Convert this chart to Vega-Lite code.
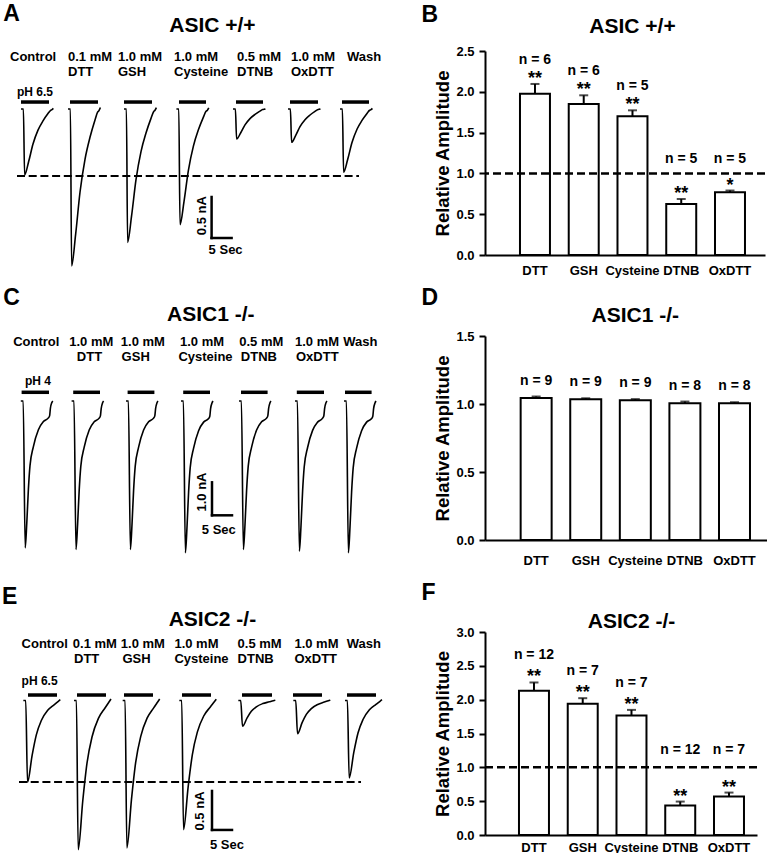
{
"$schema": "https://vega.github.io/schema/vega-lite/v6.json",
"padding": {"top": 2, "left": 0, "right": 0, "bottom": 0},
"background": "white",
"config": {"view": {"stroke": null}, "font": "Liberation Sans"},
"columns": 2,
"align": "each",
"bounds": "flush",
"spacing": {"row": 0, "column": 101},
"datasets": {
"trA": [
{"id":"A1","t":5.25,"v":0},{"id":"A1","t":5.85,"v":0},{"id":"A1","t":6.15,"v":-0.805},{"id":"A1","t":7.15,"v":-0.644},{"id":"A1","t":8.25,"v":-0.427},{"id":"A1","t":9.5,"v":-0.258},{"id":"A1","t":10.75,"v":-0.145},{"id":"A1","t":12.0,"v":-0.056},{"id":"A1","t":12.65,"v":-0.016},{"id":"A1","t":13.0,"v":-0.008},{"id":"A1","t":13.35,"v":0.008},
{"id":"A2","t":17.0,"v":0},{"id":"A2","t":17.6,"v":0},{"id":"A2","t":17.9,"v":-1.915},{"id":"A2","t":18.9,"v":-1.532},{"id":"A2","t":20.0,"v":-1.015},{"id":"A2","t":21.25,"v":-0.613},{"id":"A2","t":22.5,"v":-0.345},{"id":"A2","t":23.75,"v":-0.134},{"id":"A2","t":24.4,"v":-0.038},{"id":"A2","t":24.75,"v":-0.019},{"id":"A2","t":25.1,"v":0.019},
{"id":"A3","t":31.0,"v":0},{"id":"A3","t":31.6,"v":0},{"id":"A3","t":31.9,"v":-1.626},{"id":"A3","t":32.9,"v":-1.301},{"id":"A3","t":34.0,"v":-0.862},{"id":"A3","t":35.25,"v":-0.52},{"id":"A3","t":36.5,"v":-0.293},{"id":"A3","t":37.75,"v":-0.114},{"id":"A3","t":38.4,"v":-0.033},{"id":"A3","t":38.75,"v":-0.016},{"id":"A3","t":39.1,"v":0.016},
{"id":"A4","t":44.1,"v":0},{"id":"A4","t":44.7,"v":0},{"id":"A4","t":45.0,"v":-1.411},{"id":"A4","t":46.0,"v":-1.129},{"id":"A4","t":47.1,"v":-0.748},{"id":"A4","t":48.35,"v":-0.452},{"id":"A4","t":49.6,"v":-0.254},{"id":"A4","t":50.85,"v":-0.099},{"id":"A4","t":51.5,"v":-0.028},{"id":"A4","t":51.85,"v":-0.014},{"id":"A4","t":52.2,"v":0.014},
{"id":"A5","t":58.25,"v":0},{"id":"A5","t":58.85,"v":0},{"id":"A5","t":59.15,"v":-0.366},{"id":"A5","t":60.15,"v":-0.293},{"id":"A5","t":61.25,"v":-0.194},{"id":"A5","t":62.5,"v":-0.117},{"id":"A5","t":63.75,"v":-0.066},{"id":"A5","t":65.0,"v":-0.026},{"id":"A5","t":65.65,"v":-0.007},{"id":"A5","t":66.0,"v":-0.004},{"id":"A5","t":66.35,"v":0.004},
{"id":"A6","t":72.0,"v":0},{"id":"A6","t":72.6,"v":0},{"id":"A6","t":72.9,"v":-0.406},{"id":"A6","t":73.9,"v":-0.325},{"id":"A6","t":75.0,"v":-0.215},{"id":"A6","t":76.25,"v":-0.13},{"id":"A6","t":77.5,"v":-0.073},{"id":"A6","t":78.75,"v":-0.028},{"id":"A6","t":79.4,"v":-0.008},{"id":"A6","t":79.75,"v":-0.004},{"id":"A6","t":80.1,"v":0.004},
{"id":"A7","t":85.0,"v":0},{"id":"A7","t":85.6,"v":0},{"id":"A7","t":85.9,"v":-0.772},{"id":"A7","t":86.9,"v":-0.618},{"id":"A7","t":88.0,"v":-0.409},{"id":"A7","t":89.25,"v":-0.247},{"id":"A7","t":90.5,"v":-0.139},{"id":"A7","t":91.75,"v":-0.054},{"id":"A7","t":92.4,"v":-0.015},{"id":"A7","t":92.75,"v":-0.008},{"id":"A7","t":93.1,"v":0.008}
],
"trC": [
{"id":"C1","t":5.2,"v":0},{"id":"C1","t":5.8,"v":0},{"id":"C1","t":6.3,"v":-4.45},{"id":"C1","t":6.7,"v":-3.69},{"id":"C1","t":7.1,"v":-2.67},{"id":"C1","t":7.5,"v":-1.96},{"id":"C1","t":8.35,"v":-1.38},{"id":"C1","t":9.6,"v":-0.87},{"id":"C1","t":10.85,"v":-0.62},{"id":"C1","t":12.1,"v":-0.51},{"id":"C1","t":12.4,"v":-0.45},{"id":"C1","t":12.6,"v":-0.22},{"id":"C1","t":12.95,"v":-0.05},{"id":"C1","t":13.2,"v":0},
{"id":"C2","t":17.9,"v":0},{"id":"C2","t":18.5,"v":0},{"id":"C2","t":19.0,"v":-4.5},{"id":"C2","t":19.4,"v":-3.74},{"id":"C2","t":19.8,"v":-2.7},{"id":"C2","t":20.2,"v":-1.98},{"id":"C2","t":21.05,"v":-1.4},{"id":"C2","t":22.3,"v":-0.88},{"id":"C2","t":23.55,"v":-0.63},{"id":"C2","t":24.8,"v":-0.52},{"id":"C2","t":25.1,"v":-0.45},{"id":"C2","t":25.3,"v":-0.23},{"id":"C2","t":25.65,"v":-0.05},{"id":"C2","t":25.9,"v":0},
{"id":"C3","t":31.5,"v":0},{"id":"C3","t":32.1,"v":0},{"id":"C3","t":32.6,"v":-4.5},{"id":"C3","t":33.0,"v":-3.74},{"id":"C3","t":33.4,"v":-2.7},{"id":"C3","t":33.8,"v":-1.98},{"id":"C3","t":34.65,"v":-1.4},{"id":"C3","t":35.9,"v":-0.88},{"id":"C3","t":37.15,"v":-0.63},{"id":"C3","t":38.4,"v":-0.52},{"id":"C3","t":38.7,"v":-0.45},{"id":"C3","t":38.9,"v":-0.23},{"id":"C3","t":39.25,"v":-0.05},{"id":"C3","t":39.5,"v":0},
{"id":"C4","t":45.25,"v":0},{"id":"C4","t":45.85,"v":0},{"id":"C4","t":46.35,"v":-4.6},{"id":"C4","t":46.75,"v":-3.82},{"id":"C4","t":47.15,"v":-2.76},{"id":"C4","t":47.55,"v":-2.02},{"id":"C4","t":48.4,"v":-1.43},{"id":"C4","t":49.65,"v":-0.9},{"id":"C4","t":50.9,"v":-0.64},{"id":"C4","t":52.15,"v":-0.53},{"id":"C4","t":52.45,"v":-0.46},{"id":"C4","t":52.65,"v":-0.23},{"id":"C4","t":53.0,"v":-0.06},{"id":"C4","t":53.25,"v":0},
{"id":"C5","t":59.75,"v":0},{"id":"C5","t":60.35,"v":0},{"id":"C5","t":60.85,"v":-4.5},{"id":"C5","t":61.25,"v":-3.74},{"id":"C5","t":61.65,"v":-2.7},{"id":"C5","t":62.05,"v":-1.98},{"id":"C5","t":62.9,"v":-1.4},{"id":"C5","t":64.15,"v":-0.88},{"id":"C5","t":65.4,"v":-0.63},{"id":"C5","t":66.65,"v":-0.52},{"id":"C5","t":66.95,"v":-0.45},{"id":"C5","t":67.15,"v":-0.23},{"id":"C5","t":67.5,"v":-0.05},{"id":"C5","t":67.75,"v":0},
{"id":"C6","t":73.75,"v":0},{"id":"C6","t":74.35,"v":0},{"id":"C6","t":74.85,"v":-4.55},{"id":"C6","t":75.25,"v":-3.78},{"id":"C6","t":75.65,"v":-2.73},{"id":"C6","t":76.05,"v":-2.0},{"id":"C6","t":76.9,"v":-1.41},{"id":"C6","t":78.15,"v":-0.89},{"id":"C6","t":79.4,"v":-0.64},{"id":"C6","t":80.65,"v":-0.52},{"id":"C6","t":80.95,"v":-0.455},{"id":"C6","t":81.15,"v":-0.23},{"id":"C6","t":81.5,"v":-0.05},{"id":"C6","t":81.75,"v":0},
{"id":"C7","t":86.0,"v":0},{"id":"C7","t":86.6,"v":0},{"id":"C7","t":87.1,"v":-4.6},{"id":"C7","t":87.5,"v":-3.82},{"id":"C7","t":87.9,"v":-2.76},{"id":"C7","t":88.3,"v":-2.02},{"id":"C7","t":89.15,"v":-1.43},{"id":"C7","t":90.4,"v":-0.9},{"id":"C7","t":91.65,"v":-0.64},{"id":"C7","t":92.9,"v":-0.53},{"id":"C7","t":93.2,"v":-0.46},{"id":"C7","t":93.4,"v":-0.23},{"id":"C7","t":93.75,"v":-0.06},{"id":"C7","t":94.0,"v":0}
],
"trE": [
{"id":"E1","t":5.83,"v":0},{"id":"E1","t":6.43,"v":0},{"id":"E1","t":6.88,"v":-1.049},{"id":"E1","t":8.03,"v":-0.703},{"id":"E1","t":9.08,"v":-0.441},{"id":"E1","t":10.33,"v":-0.257},{"id":"E1","t":11.93,"v":-0.126},{"id":"E1","t":13.58,"v":-0.052},{"id":"E1","t":14.58,"v":-0.01},{"id":"E1","t":15.08,"v":0.01},
{"id":"E2","t":18.5,"v":0},{"id":"E2","t":19.1,"v":0},{"id":"E2","t":19.55,"v":-1.913},{"id":"E2","t":20.7,"v":-1.282},{"id":"E2","t":21.75,"v":-0.803},{"id":"E2","t":23.0,"v":-0.469},{"id":"E2","t":24.6,"v":-0.23},{"id":"E2","t":26.25,"v":-0.096},{"id":"E2","t":27.25,"v":-0.019},{"id":"E2","t":27.75,"v":0.019},
{"id":"E3","t":30.67,"v":0},{"id":"E3","t":31.27,"v":0},{"id":"E3","t":31.72,"v":-1.891},{"id":"E3","t":32.87,"v":-1.267},{"id":"E3","t":33.92,"v":-0.794},{"id":"E3","t":35.17,"v":-0.463},{"id":"E3","t":36.77,"v":-0.227},{"id":"E3","t":38.42,"v":-0.095},{"id":"E3","t":39.42,"v":-0.019},{"id":"E3","t":39.92,"v":0.019},
{"id":"E4","t":44.83,"v":0},{"id":"E4","t":45.43,"v":0},{"id":"E4","t":45.88,"v":-1.656},{"id":"E4","t":47.03,"v":-1.11},{"id":"E4","t":48.08,"v":-0.696},{"id":"E4","t":49.33,"v":-0.406},{"id":"E4","t":50.93,"v":-0.199},{"id":"E4","t":52.58,"v":-0.083},{"id":"E4","t":53.58,"v":-0.017},{"id":"E4","t":54.08,"v":0.017},
{"id":"E5","t":59.58,"v":0},{"id":"E5","t":60.18,"v":0},{"id":"E5","t":60.63,"v":-0.331},{"id":"E5","t":61.78,"v":-0.222},{"id":"E5","t":62.83,"v":-0.139},{"id":"E5","t":64.08,"v":-0.081},{"id":"E5","t":65.68,"v":-0.04},{"id":"E5","t":67.33,"v":-0.017},{"id":"E5","t":68.33,"v":-0.003},{"id":"E5","t":68.83,"v":0.003},
{"id":"E6","t":73.33,"v":0},{"id":"E6","t":73.93,"v":0},{"id":"E6","t":74.38,"v":-0.426},{"id":"E6","t":75.53,"v":-0.285},{"id":"E6","t":76.58,"v":-0.179},{"id":"E6","t":77.83,"v":-0.104},{"id":"E6","t":79.43,"v":-0.051},{"id":"E6","t":81.08,"v":-0.021},{"id":"E6","t":82.08,"v":-0.004},{"id":"E6","t":82.58,"v":0.004},
{"id":"E7","t":86.25,"v":0},{"id":"E7","t":86.85,"v":0},{"id":"E7","t":87.3,"v":-0.994},{"id":"E7","t":88.45,"v":-0.666},{"id":"E7","t":89.5,"v":-0.417},{"id":"E7","t":90.75,"v":-0.244},{"id":"E7","t":92.35,"v":-0.119},{"id":"E7","t":94.0,"v":-0.05},{"id":"E7","t":95.0,"v":-0.01},{"id":"E7","t":95.5,"v":0.01}
],
"cdA": [
{"l1":"Control","l2":"","lx":2.5,"lx2":2.5,"b1":5.25,"b2":12.25},
{"l1":"0.1 mM","l2":"DTT","lx":17,"lx2":17,"b1":17.5,"b2":24.5},
{"l1":"1.0 mM","l2":"GSH","lx":29.5,"lx2":29.5,"b1":31,"b2":38},
{"l1":"1.0 mM","l2":"Cysteine","lx":43.5,"lx2":43.5,"b1":44.75,"b2":51.5},
{"l1":"0.5 mM","l2":"DTNB","lx":59.25,"lx2":59.25,"b1":59,"b2":65.75},
{"l1":"1.0 mM","l2":"OxDTT","lx":72.75,"lx2":72.75,"b1":72.5,"b2":79.5},
{"l1":"Wash","l2":"","lx":86.75,"lx2":86.75,"b1":85.5,"b2":92.25}
],
"cdC": [
{"l1":"Control","l2":"","lx":3.3,"lx2":3.3,"b1":5.4,"b2":12.25},
{"l1":"1.0 mM","l2":"DTT","lx":17.3,"lx2":19.2,"b1":18.3,"b2":25},
{"l1":"1.0 mM","l2":"GSH","lx":30.2,"lx2":30.4,"b1":31.9,"b2":38.6},
{"l1":"1.0 mM","l2":"Cysteine","lx":45,"lx2":44.6,"b1":45.8,"b2":52.5},
{"l1":"0.5 mM","l2":"DTNB","lx":59.8,"lx2":60.2,"b1":60.25,"b2":66.9},
{"l1":"1.0 mM","l2":"OxDTT","lx":73.75,"lx2":74,"b1":74.2,"b2":81},
{"l1":"Wash","l2":"","lx":85.8,"lx2":85.8,"b1":86.25,"b2":92.9}
],
"cdE": [
{"l1":"Control","l2":"","lx":5.4,"lx2":5.4,"b1":7,"b2":14.25},
{"l1":"0.1 mM","l2":"DTT","lx":18.2,"lx2":18.5,"b1":19.25,"b2":26.5},
{"l1":"1.0 mM","l2":"GSH","lx":30.2,"lx2":30.6,"b1":31,"b2":38.25},
{"l1":"1.0 mM","l2":"Cysteine","lx":43.6,"lx2":43.6,"b1":45.5,"b2":52.75},
{"l1":"0.5 mM","l2":"DTNB","lx":59.4,"lx2":59.4,"b1":60.5,"b2":68},
{"l1":"1.0 mM","l2":"OxDTT","lx":73.6,"lx2":73.6,"b1":73.25,"b2":80.5},
{"l1":"Wash","l2":"","lx":86.7,"lx2":86.7,"b1":86.75,"b2":94}
],
"bB": [
{"cat":"DTT","mean":1.977,"err":2.096,"n":"n = 6","sig":"**"},
{"cat":"GSH","mean":1.85,"err":1.957,"n":"n = 6","sig":"**"},
{"cat":"Cysteine","mean":1.7,"err":1.773,"n":"n = 5","sig":"**"},
{"cat":"DTNB","mean":0.625,"err":0.686,"n":"n = 5","sig":"**"},
{"cat":"OxDTT","mean":0.768,"err":0.79,"n":"n = 5","sig":"*"}
],
"bD": [
{"cat":"DTT","mean":1.045,"err":1.055,"n":"n = 9","sig":""},
{"cat":"GSH","mean":1.035,"err":1.042,"n":"n = 9","sig":""},
{"cat":"Cysteine","mean":1.028,"err":1.036,"n":"n = 9","sig":""},
{"cat":"DTNB","mean":1.005,"err":1.018,"n":"n = 8","sig":""},
{"cat":"OxDTT","mean":1.005,"err":1.013,"n":"n = 8","sig":""}
],
"bF": [
{"cat":"DTT","mean":2.13,"err":2.254,"n":"n = 12","sig":"**"},
{"cat":"GSH","mean":1.938,"err":2.022,"n":"n = 7","sig":"**"},
{"cat":"Cysteine","mean":1.766,"err":1.849,"n":"n = 7","sig":"**"},
{"cat":"DTNB","mean":0.435,"err":0.494,"n":"n = 12","sig":"**"},
{"cat":"OxDTT","mean":0.568,"err":0.627,"n":"n = 7","sig":"**"}
]
},
"concat": [
{
"width": 384, "height": 285,
"layer": [
{"data":{"name":"trA"},"mark":{"type":"line","interpolate":"monotone","color":"black","strokeWidth":1.6},
 "encoding":{"x":{"field":"t","type":"quantitative","scale":{"domain":[0,96],"nice":false,"zero":false},"axis":null},
  "y":{"field":"v","type":"quantitative","scale":{"domain":[-2.768,0.7073],"nice":false,"zero":false},"axis":null},
  "detail":{"field":"id"}}},
{"data":{"name":"cdA"},"mark":{"type":"rule","color":"black","strokeWidth":3.5},
 "encoding":{"x":{"field":"b1","type":"quantitative","scale":{"domain":[0,96],"nice":false,"zero":false},"axis":null},"x2":{"field":"b2"},
  "y":{"datum":0.085,"scale":{"domain":[-2.768,0.7073],"nice":false,"zero":false},"axis":null}}},
{"data":{"name":"cdA"},"mark":{"type":"text","align":"left","baseline":"middle","fontSize":13,"fontWeight":"bold","color":"black"},
 "encoding":{"x":{"field":"lx","type":"quantitative","scale":{"domain":[0,96],"nice":false,"zero":false},"axis":null},
  "y":{"datum":0.634,"scale":{"domain":[-2.768,0.7073],"nice":false,"zero":false},"axis":null},"text":{"field":"l1"}}},
{"data":{"name":"cdA"},"mark":{"type":"text","align":"left","baseline":"middle","fontSize":13,"fontWeight":"bold","color":"black"},
 "encoding":{"x":{"field":"lx2","type":"quantitative","scale":{"domain":[0,96],"nice":false,"zero":false},"axis":null},
  "y":{"datum":0.451,"scale":{"domain":[-2.768,0.7073],"nice":false,"zero":false},"axis":null},"text":{"field":"l2"}}},
{"data":{"values":[{}]},"mark":{"type":"rule","color":"black","strokeWidth":2,"strokeDash":[8,3.7]},
 "encoding":{"x":{"datum":4.25,"scale":{"domain":[0,96],"nice":false,"zero":false},"axis":null},"x2":{"datum":89.75},
  "y":{"datum":-0.817,"scale":{"domain":[-2.768,0.7073],"nice":false,"zero":false},"axis":null}}},
{"data":{"values":[{}]},"mark":{"type":"rule","color":"black","strokeWidth":2.5,"strokeCap":"square"},
 "encoding":{"x":{"datum":52.9,"scale":{"domain":[0,96],"nice":false,"zero":false},"axis":null},
  "y":{"datum":-1.073,"scale":{"domain":[-2.768,0.7073],"nice":false,"zero":false},"axis":null},"y2":{"datum":-1.573}}},
{"data":{"values":[{}]},"mark":{"type":"rule","color":"black","strokeWidth":2.5,"strokeCap":"square"},
 "encoding":{"x":{"datum":52.9,"scale":{"domain":[0,96],"nice":false,"zero":false},"axis":null},"x2":{"datum":57.9},
  "y":{"datum":-1.573,"scale":{"domain":[-2.768,0.7073],"nice":false,"zero":false},"axis":null}}},
{"data":{"values":[{}]},"mark":{"type":"text","text":"A","align":"left","baseline":"top","fontSize":23,"fontWeight":"bold","color":"black"},
 "encoding":{"x":{"datum":0.8,"scale":{"domain":[0,96],"nice":false,"zero":false},"axis":null},
  "y":{"datum":1.293,"scale":{"domain":[-2.768,0.7073],"nice":false,"zero":false},"axis":null}}},
{"data":{"values":[{}]},"mark":{"type":"text","text":"ASIC +/+","align":"center","baseline":"middle","fontSize":21,"fontWeight":"bold","color":"black"},
 "encoding":{"x":{"datum":53.1,"scale":{"domain":[0,96],"nice":false,"zero":false},"axis":null},
  "y":{"datum":1.012,"scale":{"domain":[-2.768,0.7073],"nice":false,"zero":false},"axis":null}}},
{"data":{"values":[{}]},"mark":{"type":"text","text":"pH 6.5","align":"left","baseline":"middle","fontSize":12,"fontWeight":"bold","color":"black"},
 "encoding":{"x":{"datum":4.25,"scale":{"domain":[0,96],"nice":false,"zero":false},"axis":null},
  "y":{"datum":0.207,"scale":{"domain":[-2.768,0.7073],"nice":false,"zero":false},"axis":null}}},
{"data":{"values":[{}]},"mark":{"type":"text","text":"0.5 nA","align":"center","baseline":"middle","angle":270,"fontSize":13,"fontWeight":"bold","color":"black"},
 "encoding":{"x":{"datum":50.4,"scale":{"domain":[0,96],"nice":false,"zero":false},"axis":null},
  "y":{"datum":-1.301,"scale":{"domain":[-2.768,0.7073],"nice":false,"zero":false},"axis":null}}},
{"data":{"values":[{}]},"mark":{"type":"text","text":"5 Sec","align":"center","baseline":"middle","fontSize":13,"fontWeight":"bold","color":"black"},
 "encoding":{"x":{"datum":56.4,"scale":{"domain":[0,96],"nice":false,"zero":false},"axis":null},
  "y":{"datum":-1.72,"scale":{"domain":[-2.768,0.7073],"nice":false,"zero":false},"axis":null}}}
]
},
{
"width": 280, "height": 204,
"title": {"text":"B","anchor":"start","frame":"bounds","baseline":"bottom","fontSize":23,"fontWeight":"bold","font":"Liberation Sans","color":"black","dx":-12,"offset":-34},
"data": {"name":"bB"},
"layer": [
{"mark":{"type":"bar","fill":"white","stroke":"black","strokeWidth":2},
 "encoding":{"x":{"field":"cat","type":"nominal","scale":{"domain":["DTT","GSH","Cysteine","DTNB","OxDTT"],"paddingInner":0.385,"paddingOuter":0.564,"align":0.636},
   "axis":{"title":null,"ticks":false,"tickSize":0,"labelPadding":9,"labelAngle":0,"labelFontSize":13,"labelFontWeight":"bold","labelColor":"black","domainColor":"black","domainWidth":2}},
  "y":{"field":"mean","type":"quantitative","scale":{"domain":[0,2.5],"nice":false},
   "axis":{"title":"Relative Amplitude","titleFontSize":18.5,"titleFontWeight":"bold","titleColor":"black","titlePadding":3.5,"values":[0,0.5,1,1.5,2,2.5],"tickCount":20,"format":".1f","labelOverlap":false,"grid":false,"tickSize":6,"tickWidth":2,"tickColor":"black","domainColor":"black","domainWidth":2,"labelPadding":5,"labelFontSize":13,"labelFontWeight":"bold","labelColor":"black"}}}},
{"mark":{"type":"rule","color":"black","strokeWidth":2},
 "encoding":{"x":{"field":"cat","type":"nominal","scale":{"domain":["DTT","GSH","Cysteine","DTNB","OxDTT"],"paddingInner":0.385,"paddingOuter":0.564,"align":0.636}},
  "y":{"field":"mean","type":"quantitative","scale":{"domain":[0,2.5],"nice":false}},"y2":{"field":"err"}}},
{"mark":{"type":"tick","orient":"horizontal","color":"black","thickness":2},
 "encoding":{"x":{"field":"cat","type":"nominal","scale":{"domain":["DTT","GSH","Cysteine","DTNB","OxDTT"],"paddingInner":0.385,"paddingOuter":0.564,"align":0.636}},
  "y":{"field":"err","type":"quantitative","scale":{"domain":[0,2.5],"nice":false}},"size":{"value":9}}},
{"data":{"values":[{}]},"mark":{"type":"rule","color":"black","strokeWidth":2.5,"strokeDash":[8,4]},
 "encoding":{"y":{"datum":1,"scale":{"domain":[0,2.5],"nice":false}}}},
{"mark":{"type":"text","baseline":"alphabetic","fontSize":18,"fontWeight":"bold","color":"black"},
 "encoding":{"x":{"field":"cat","type":"nominal","scale":{"domain":["DTT","GSH","Cysteine","DTNB","OxDTT"],"paddingInner":0.385,"paddingOuter":0.564,"align":0.636}},
  "y":{"field":"err","type":"quantitative","scale":{"domain":[0,2.5],"nice":false}},"text":{"field":"sig"}}},
{"transform":[{"filter":"datum.mean > 1"}],"mark":{"type":"text","baseline":"middle","fontSize":14,"fontWeight":"bold","color":"black","dy":-24},
 "encoding":{"x":{"field":"cat","type":"nominal","scale":{"domain":["DTT","GSH","Cysteine","DTNB","OxDTT"],"paddingInner":0.385,"paddingOuter":0.564,"align":0.636}},
  "y":{"field":"err","type":"quantitative","scale":{"domain":[0,2.5],"nice":false}},"text":{"field":"n"}}},
{"transform":[{"filter":"datum.mean < 1"}],"mark":{"type":"text","baseline":"middle","fontSize":14,"fontWeight":"bold","color":"black","dy":-14},
 "encoding":{"x":{"field":"cat","type":"nominal","scale":{"domain":["DTT","GSH","Cysteine","DTNB","OxDTT"],"paddingInner":0.385,"paddingOuter":0.564,"align":0.636}},
  "y":{"datum":1,"scale":{"domain":[0,2.5],"nice":false}},"text":{"field":"n"}}},
{"data":{"values":[{}]},"mark":{"type":"text","text":"ASIC +/+","baseline":"middle","align":"center","fontSize":21,"fontWeight":"bold","color":"black"},
 "encoding":{"x":{"datum":"Cysteine","type":"nominal","scale":{"domain":["DTT","GSH","Cysteine","DTNB","OxDTT"],"paddingInner":0.385,"paddingOuter":0.564,"align":0.636}},
  "y":{"datum":2.788,"scale":{"domain":[0,2.5],"nice":false}}}}
]
},
{
"width": 384, "height": 296,
"layer": [
{"data":{"name":"trC"},"mark":{"type":"line","interpolate":"monotone","color":"black","strokeWidth":1.6},
 "encoding":{"x":{"field":"t","type":"quantitative","scale":{"domain":[0,96],"nice":false,"zero":false},"axis":null},
  "y":{"field":"v","type":"quantitative","scale":{"domain":[-7.0,1.97],"nice":false,"zero":false},"axis":null},
  "detail":{"field":"id"}}},
{"data":{"name":"cdC"},"mark":{"type":"rule","color":"black","strokeWidth":3.5},
 "encoding":{"x":{"field":"b1","type":"quantitative","scale":{"domain":[0,96],"nice":false,"zero":false},"axis":null},"x2":{"field":"b2"},
  "y":{"datum":0.264,"scale":{"domain":[-7.0,1.97],"nice":false,"zero":false},"axis":null}}},
{"data":{"name":"cdC"},"mark":{"type":"text","align":"left","baseline":"middle","fontSize":13,"fontWeight":"bold","color":"black"},
 "encoding":{"x":{"field":"lx","type":"quantitative","scale":{"domain":[0,96],"nice":false,"zero":false},"axis":null},
  "y":{"datum":1.788,"scale":{"domain":[-7.0,1.97],"nice":false,"zero":false},"axis":null},"text":{"field":"l1"}}},
{"data":{"name":"cdC"},"mark":{"type":"text","align":"left","baseline":"middle","fontSize":13,"fontWeight":"bold","color":"black"},
 "encoding":{"x":{"field":"lx2","type":"quantitative","scale":{"domain":[0,96],"nice":false,"zero":false},"axis":null},
  "y":{"datum":1.333,"scale":{"domain":[-7.0,1.97],"nice":false,"zero":false},"axis":null},"text":{"field":"l2"}}},
{"data":{"values":[{}]},"mark":{"type":"rule","color":"black","strokeWidth":2.5,"strokeCap":"square"},
 "encoding":{"x":{"datum":53,"scale":{"domain":[0,96],"nice":false,"zero":false},"axis":null},
  "y":{"datum":-2.464,"scale":{"domain":[-7.0,1.97],"nice":false,"zero":false},"axis":null},"y2":{"datum":-3.464}}},
{"data":{"values":[{}]},"mark":{"type":"rule","color":"black","strokeWidth":2.5,"strokeCap":"square"},
 "encoding":{"x":{"datum":53,"scale":{"domain":[0,96],"nice":false,"zero":false},"axis":null},"x2":{"datum":58},
  "y":{"datum":-3.464,"scale":{"domain":[-7.0,1.97],"nice":false,"zero":false},"axis":null}}},
{"data":{"values":[{}]},"mark":{"type":"text","text":"C","align":"left","baseline":"top","fontSize":23,"fontWeight":"bold","color":"black"},
 "encoding":{"x":{"datum":0.8,"scale":{"domain":[0,96],"nice":false,"zero":false},"axis":null},
  "y":{"datum":3.455,"scale":{"domain":[-7.0,1.97],"nice":false,"zero":false},"axis":null}}},
{"data":{"values":[{}]},"mark":{"type":"text","text":"ASIC1 -/-","align":"center","baseline":"middle","fontSize":21,"fontWeight":"bold","color":"black"},
 "encoding":{"x":{"datum":52.7,"scale":{"domain":[0,96],"nice":false,"zero":false},"axis":null},
  "y":{"datum":2.615,"scale":{"domain":[-7.0,1.97],"nice":false,"zero":false},"axis":null}}},
{"data":{"values":[{}]},"mark":{"type":"text","text":"pH 4","align":"left","baseline":"middle","fontSize":12,"fontWeight":"bold","color":"black"},
 "encoding":{"x":{"datum":6.25,"scale":{"domain":[0,96],"nice":false,"zero":false},"axis":null},
  "y":{"datum":0.597,"scale":{"domain":[-7.0,1.97],"nice":false,"zero":false},"axis":null}}},
{"data":{"values":[{}]},"mark":{"type":"text","text":"1.0 nA","align":"center","baseline":"middle","angle":270,"fontSize":13,"fontWeight":"bold","color":"black"},
 "encoding":{"x":{"datum":50.4,"scale":{"domain":[0,96],"nice":false,"zero":false},"axis":null},
  "y":{"datum":-2.758,"scale":{"domain":[-7.0,1.97],"nice":false,"zero":false},"axis":null}}},
{"data":{"values":[{}]},"mark":{"type":"text","text":"5 Sec","align":"center","baseline":"middle","fontSize":13,"fontWeight":"bold","color":"black"},
 "encoding":{"x":{"datum":54.7,"scale":{"domain":[0,96],"nice":false,"zero":false},"axis":null},
  "y":{"datum":-3.9,"scale":{"domain":[-7.0,1.97],"nice":false,"zero":false},"axis":null}}}
]
},
{
"width": 282, "height": 204,
"title": {"text":"D","anchor":"start","frame":"bounds","baseline":"bottom","fontSize":23,"fontWeight":"bold","font":"Liberation Sans","color":"black","dx":-12,"offset":-27.5},
"data": {"name":"bD"},
"layer": [
{"mark":{"type":"bar","fill":"white","stroke":"black","strokeWidth":2},
 "encoding":{"x":{"field":"cat","type":"nominal","scale":{"domain":["DTT","GSH","Cysteine","DTNB","OxDTT"],"paddingInner":0.375,"paddingOuter":0.531,"align":0.677},
   "axis":{"title":null,"ticks":false,"tickSize":0,"labelPadding":14,"labelAngle":0,"labelFontSize":13,"labelFontWeight":"bold","labelColor":"black","domainColor":"black","domainWidth":2}},
  "y":{"field":"mean","type":"quantitative","scale":{"domain":[0,1.5],"nice":false},
   "axis":{"title":"Relative Amplitude","titleFontSize":18.5,"titleFontWeight":"bold","titleColor":"black","titlePadding":3.5,"values":[0,0.5,1,1.5],"tickCount":20,"format":".1f","labelOverlap":false,"grid":false,"tickSize":6,"tickWidth":2,"tickColor":"black","domainColor":"black","domainWidth":2,"labelPadding":5,"labelFontSize":13,"labelFontWeight":"bold","labelColor":"black"}}}},
{"mark":{"type":"rule","color":"black","strokeWidth":2},
 "encoding":{"x":{"field":"cat","type":"nominal","scale":{"domain":["DTT","GSH","Cysteine","DTNB","OxDTT"],"paddingInner":0.375,"paddingOuter":0.531,"align":0.677}},
  "y":{"field":"mean","type":"quantitative","scale":{"domain":[0,1.5],"nice":false}},"y2":{"field":"err"}}},
{"mark":{"type":"tick","orient":"horizontal","color":"black","thickness":2},
 "encoding":{"x":{"field":"cat","type":"nominal","scale":{"domain":["DTT","GSH","Cysteine","DTNB","OxDTT"],"paddingInner":0.375,"paddingOuter":0.531,"align":0.677}},
  "y":{"field":"err","type":"quantitative","scale":{"domain":[0,1.5],"nice":false}},"size":{"value":9}}},
{"mark":{"type":"text","baseline":"middle","fontSize":14,"fontWeight":"bold","color":"black","dy":-16},
 "encoding":{"x":{"field":"cat","type":"nominal","scale":{"domain":["DTT","GSH","Cysteine","DTNB","OxDTT"],"paddingInner":0.375,"paddingOuter":0.531,"align":0.677}},
  "y":{"field":"err","type":"quantitative","scale":{"domain":[0,1.5],"nice":false}},"text":{"field":"n"}}},
{"data":{"values":[{}]},"mark":{"type":"text","text":"ASIC1 -/-","baseline":"middle","align":"center","fontSize":21,"fontWeight":"bold","color":"black"},
 "encoding":{"x":{"datum":"Cysteine","type":"nominal","scale":{"domain":["DTT","GSH","Cysteine","DTNB","OxDTT"],"paddingInner":0.375,"paddingOuter":0.531,"align":0.677}},
  "y":{"datum":1.647,"scale":{"domain":[0,1.5],"nice":false}}}}
]
},
{
"width": 384, "height": 224,
"layer": [
{"data":{"name":"trE"},"mark":{"type":"line","interpolate":"monotone","color":"black","strokeWidth":1.6},
 "encoding":{"x":{"field":"t","type":"quantitative","scale":{"domain":[0,96],"nice":false,"zero":false},"axis":null},
  "y":{"field":"v","type":"quantitative","scale":{"domain":[-1.994,0.878],"nice":false,"zero":false},"axis":null},
  "detail":{"field":"id"}}},
{"data":{"name":"cdE"},"mark":{"type":"rule","color":"black","strokeWidth":3.5},
 "encoding":{"x":{"field":"b1","type":"quantitative","scale":{"domain":[0,96],"nice":false,"zero":false},"axis":null},"x2":{"field":"b2"},
  "y":{"datum":0.07,"scale":{"domain":[-1.994,0.878],"nice":false,"zero":false},"axis":null}}},
{"data":{"name":"cdE"},"mark":{"type":"text","align":"left","baseline":"middle","fontSize":13,"fontWeight":"bold","color":"black"},
 "encoding":{"x":{"field":"lx","type":"quantitative","scale":{"domain":[0,96],"nice":false,"zero":false},"axis":null},
  "y":{"datum":0.724,"scale":{"domain":[-1.994,0.878],"nice":false,"zero":false},"axis":null},"text":{"field":"l1"}}},
{"data":{"name":"cdE"},"mark":{"type":"text","align":"left","baseline":"middle","fontSize":13,"fontWeight":"bold","color":"black"},
 "encoding":{"x":{"field":"lx2","type":"quantitative","scale":{"domain":[0,96],"nice":false,"zero":false},"axis":null},
  "y":{"datum":0.532,"scale":{"domain":[-1.994,0.878],"nice":false,"zero":false},"axis":null},"text":{"field":"l2"}}},
{"data":{"values":[{}]},"mark":{"type":"rule","color":"black","strokeWidth":2,"strokeDash":[8,3.7]},
 "encoding":{"x":{"datum":4.75,"scale":{"domain":[0,96],"nice":false,"zero":false},"axis":null},"x2":{"datum":90.25},
  "y":{"datum":-1.045,"scale":{"domain":[-1.994,0.878],"nice":false,"zero":false},"axis":null}}},
{"data":{"values":[{}]},"mark":{"type":"rule","color":"black","strokeWidth":2.5,"strokeCap":"square"},
 "encoding":{"x":{"datum":53,"scale":{"domain":[0,96],"nice":false,"zero":false},"axis":null},
  "y":{"datum":-1.16,"scale":{"domain":[-1.994,0.878],"nice":false,"zero":false},"axis":null},"y2":{"datum":-1.66}}},
{"data":{"values":[{}]},"mark":{"type":"rule","color":"black","strokeWidth":2.5,"strokeCap":"square"},
 "encoding":{"x":{"datum":53,"scale":{"domain":[0,96],"nice":false,"zero":false},"axis":null},"x2":{"datum":58},
  "y":{"datum":-1.66,"scale":{"domain":[-1.994,0.878],"nice":false,"zero":false},"axis":null}}},
{"data":{"values":[{}]},"mark":{"type":"text","text":"E","align":"left","baseline":"top","fontSize":23,"fontWeight":"bold","color":"black"},
 "encoding":{"x":{"datum":0.5,"scale":{"domain":[0,96],"nice":false,"zero":false},"axis":null},
  "y":{"datum":1.468,"scale":{"domain":[-1.994,0.878],"nice":false,"zero":false},"axis":null}}},
{"data":{"values":[{}]},"mark":{"type":"text","text":"ASIC2 -/-","align":"center","baseline":"middle","fontSize":21,"fontWeight":"bold","color":"black"},
 "encoding":{"x":{"datum":53.1,"scale":{"domain":[0,96],"nice":false,"zero":false},"axis":null},
  "y":{"datum":1.036,"scale":{"domain":[-1.994,0.878],"nice":false,"zero":false},"axis":null}}},
{"data":{"values":[{}]},"mark":{"type":"text","text":"pH 6.5","align":"left","baseline":"middle","fontSize":12,"fontWeight":"bold","color":"black"},
 "encoding":{"x":{"datum":5.4,"scale":{"domain":[0,96],"nice":false,"zero":false},"axis":null},
  "y":{"datum":0.25,"scale":{"domain":[-1.994,0.878],"nice":false,"zero":false},"axis":null}}},
{"data":{"values":[{}]},"mark":{"type":"text","text":"0.5 nA","align":"center","baseline":"middle","angle":270,"fontSize":13,"fontWeight":"bold","color":"black"},
 "encoding":{"x":{"datum":50,"scale":{"domain":[0,96],"nice":false,"zero":false},"axis":null},
  "y":{"datum":-1.417,"scale":{"domain":[-1.994,0.878],"nice":false,"zero":false},"axis":null}}},
{"data":{"values":[{}]},"mark":{"type":"text","text":"5 Sec","align":"center","baseline":"middle","fontSize":13,"fontWeight":"bold","color":"black"},
 "encoding":{"x":{"datum":56.75,"scale":{"domain":[0,96],"nice":false,"zero":false},"axis":null},
  "y":{"datum":-1.849,"scale":{"domain":[-1.994,0.878],"nice":false,"zero":false},"axis":null}}}
]
},
{
"width": 272, "height": 203,
"title": {"text":"F","anchor":"start","frame":"bounds","baseline":"bottom","fontSize":23,"fontWeight":"bold","font":"Liberation Sans","color":"black","dx":-12,"offset":-16.8},
"data": {"name":"bF"},
"layer": [
{"mark":{"type":"bar","fill":"white","stroke":"black","strokeWidth":2},
 "encoding":{"x":{"field":"cat","type":"nominal","scale":{"domain":["DTT","GSH","Cysteine","DTNB","OxDTT"],"paddingInner":0.385,"paddingOuter":0.482,"align":0.723},
   "axis":{"title":null,"ticks":false,"tickSize":0,"labelPadding":6,"labelAngle":0,"labelFontSize":13,"labelFontWeight":"bold","labelColor":"black","domainColor":"black","domainWidth":2}},
  "y":{"field":"mean","type":"quantitative","scale":{"domain":[0,3],"nice":false},
   "axis":{"title":"Relative Amplitude","titleFontSize":18.5,"titleFontWeight":"bold","titleColor":"black","titlePadding":3.5,"values":[0,0.5,1,1.5,2,2.5,3],"tickCount":20,"format":".1f","labelOverlap":false,"grid":false,"tickSize":6,"tickWidth":2,"tickColor":"black","domainColor":"black","domainWidth":2,"labelPadding":5,"labelFontSize":13,"labelFontWeight":"bold","labelColor":"black"}}}},
{"mark":{"type":"rule","color":"black","strokeWidth":2},
 "encoding":{"x":{"field":"cat","type":"nominal","scale":{"domain":["DTT","GSH","Cysteine","DTNB","OxDTT"],"paddingInner":0.385,"paddingOuter":0.482,"align":0.723}},
  "y":{"field":"mean","type":"quantitative","scale":{"domain":[0,3],"nice":false}},"y2":{"field":"err"}}},
{"mark":{"type":"tick","orient":"horizontal","color":"black","thickness":2},
 "encoding":{"x":{"field":"cat","type":"nominal","scale":{"domain":["DTT","GSH","Cysteine","DTNB","OxDTT"],"paddingInner":0.385,"paddingOuter":0.482,"align":0.723}},
  "y":{"field":"err","type":"quantitative","scale":{"domain":[0,3],"nice":false}},"size":{"value":9}}},
{"data":{"values":[{}]},"mark":{"type":"rule","color":"black","strokeWidth":2.5,"strokeDash":[8,4]},
 "encoding":{"y":{"datum":1,"scale":{"domain":[0,3],"nice":false}}}},
{"mark":{"type":"text","baseline":"alphabetic","fontSize":18,"fontWeight":"bold","color":"black"},
 "encoding":{"x":{"field":"cat","type":"nominal","scale":{"domain":["DTT","GSH","Cysteine","DTNB","OxDTT"],"paddingInner":0.385,"paddingOuter":0.482,"align":0.723}},
  "y":{"field":"err","type":"quantitative","scale":{"domain":[0,3],"nice":false}},"text":{"field":"sig"}}},
{"transform":[{"filter":"datum.mean > 1"}],"mark":{"type":"text","baseline":"middle","fontSize":14,"fontWeight":"bold","color":"black","dy":-27},
 "encoding":{"x":{"field":"cat","type":"nominal","scale":{"domain":["DTT","GSH","Cysteine","DTNB","OxDTT"],"paddingInner":0.385,"paddingOuter":0.482,"align":0.723}},
  "y":{"field":"err","type":"quantitative","scale":{"domain":[0,3],"nice":false}},"text":{"field":"n"}}},
{"transform":[{"filter":"datum.mean < 1"}],"mark":{"type":"text","baseline":"middle","fontSize":14,"fontWeight":"bold","color":"black","dy":-17},
 "encoding":{"x":{"field":"cat","type":"nominal","scale":{"domain":["DTT","GSH","Cysteine","DTNB","OxDTT"],"paddingInner":0.385,"paddingOuter":0.482,"align":0.723}},
  "y":{"datum":1,"scale":{"domain":[0,3],"nice":false}},"text":{"field":"n"}}},
{"data":{"values":[{}]},"mark":{"type":"text","text":"ASIC2 -/-","baseline":"middle","align":"center","fontSize":21,"fontWeight":"bold","color":"black"},
 "encoding":{"x":{"datum":"Cysteine","type":"nominal","scale":{"domain":["DTT","GSH","Cysteine","DTNB","OxDTT"],"paddingInner":0.385,"paddingOuter":0.482,"align":0.723}},
  "y":{"datum":3.148,"scale":{"domain":[0,3],"nice":false}}}}
]
}
]
}
